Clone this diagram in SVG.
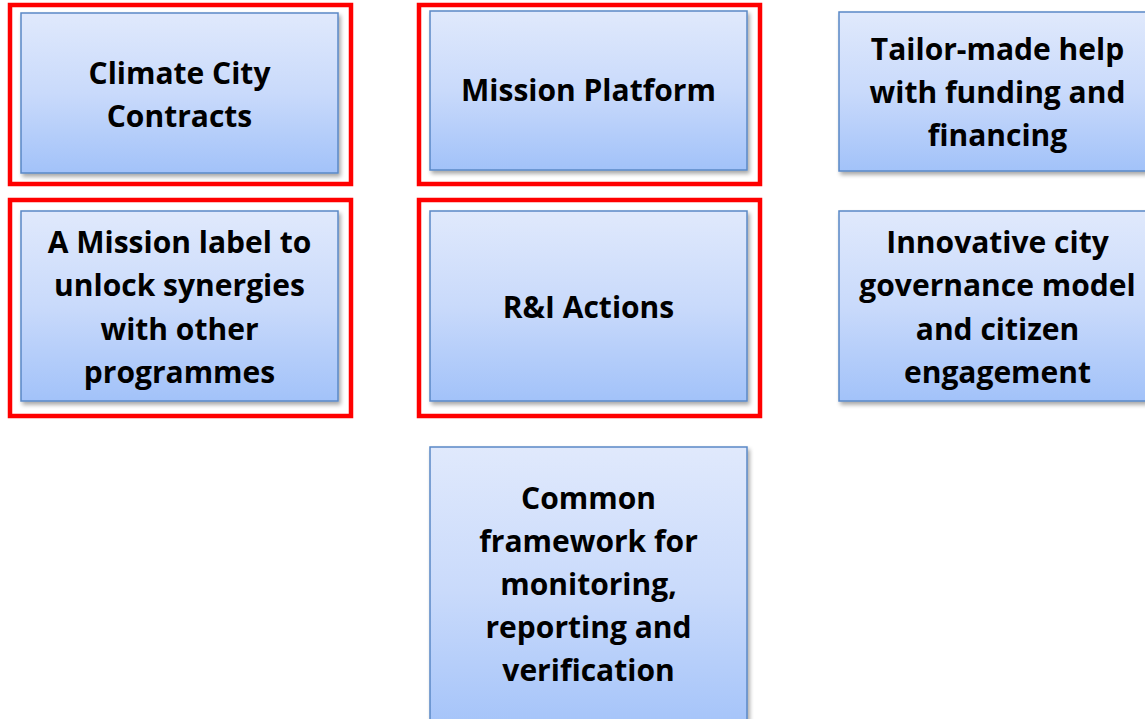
<svg xmlns="http://www.w3.org/2000/svg" width="1145" height="719" viewBox="0 0 1145 719">
<defs>
<linearGradient id="g" x1="0" y1="0" x2="0" y2="1">
<stop offset="0" stop-color="#e0e9fc"/>
<stop offset="0.5" stop-color="#c9dafb"/>
<stop offset="1" stop-color="#a2c2f9"/>
</linearGradient>
<filter id="sh" x="-5%" y="-5%" width="115%" height="115%">
<feGaussianBlur in="SourceAlpha" stdDeviation="2"/>
<feOffset dx="2" dy="3" result="b"/>
<feComponentTransfer><feFuncA type="linear" slope="0.35"/></feComponentTransfer>
<feMerge><feMergeNode/><feMergeNode in="SourceGraphic"/></feMerge>
</filter>
</defs>
<style>
.box{fill:url(#g);stroke:#5a88c6;stroke-width:1.5;filter:url(#sh)}
.hl{fill:none;stroke:#ff0000;stroke-width:4.5}
text{font-family:"Open Sans",Lato,"Liberation Sans",sans-serif;font-weight:bold;font-size:30px;fill:#000;text-anchor:middle}
</style>
<rect width="1145" height="719" fill="#fff"/>
<g id="connectors"/>
<g id="climate-city-contracts">
<rect class="hl" x="10" y="5" width="341" height="179"/>
<rect class="box" x="21" y="13" width="317" height="160"/>
<text x="179.5" y="84">Climate City</text>
<text x="179.5" y="127">Contracts</text>
</g>
<g id="mission-platform">
<rect class="hl" x="419" y="5" width="341" height="179"/>
<rect class="box" x="430" y="11" width="317" height="159"/>
<text x="588.5" y="101">Mission Platform</text>
</g>
<g id="tailor-made">
<rect class="box" x="839" y="12" width="317" height="159"/>
<text x="997.5" y="60">Tailor-made help</text>
<text x="997.5" y="103">with funding and</text>
<text x="997.5" y="146">financing</text>
</g>
<g id="mission-label">
<rect class="hl" x="10" y="200" width="341" height="216"/>
<rect class="box" x="21" y="211" width="317" height="190"/>
<text x="179.5" y="253">A Mission label to</text>
<text x="179.5" y="296">unlock synergies</text>
<text x="179.5" y="340">with other</text>
<text x="179.5" y="383">programmes</text>
</g>
<g id="ri-actions">
<rect class="hl" x="419" y="200" width="341" height="216"/>
<rect class="box" x="430" y="211" width="317" height="190"/>
<text x="588.5" y="318">R&amp;I Actions</text>
</g>
<g id="innovative-governance">
<rect class="box" x="839" y="211" width="317" height="190"/>
<text x="997.5" y="253">Innovative city</text>
<text x="997.5" y="296">governance model</text>
<text x="997.5" y="340">and citizen</text>
<text x="997.5" y="383">engagement</text>
</g>
<g id="common-framework">
<rect class="box" x="430" y="447" width="317" height="290"/>
<text x="588.5" y="509">Common</text>
<text x="588.5" y="552">framework for</text>
<text x="588.5" y="595">monitoring,</text>
<text x="588.5" y="638">reporting and</text>
<text x="588.5" y="681">verification</text>
</g>
</svg>
